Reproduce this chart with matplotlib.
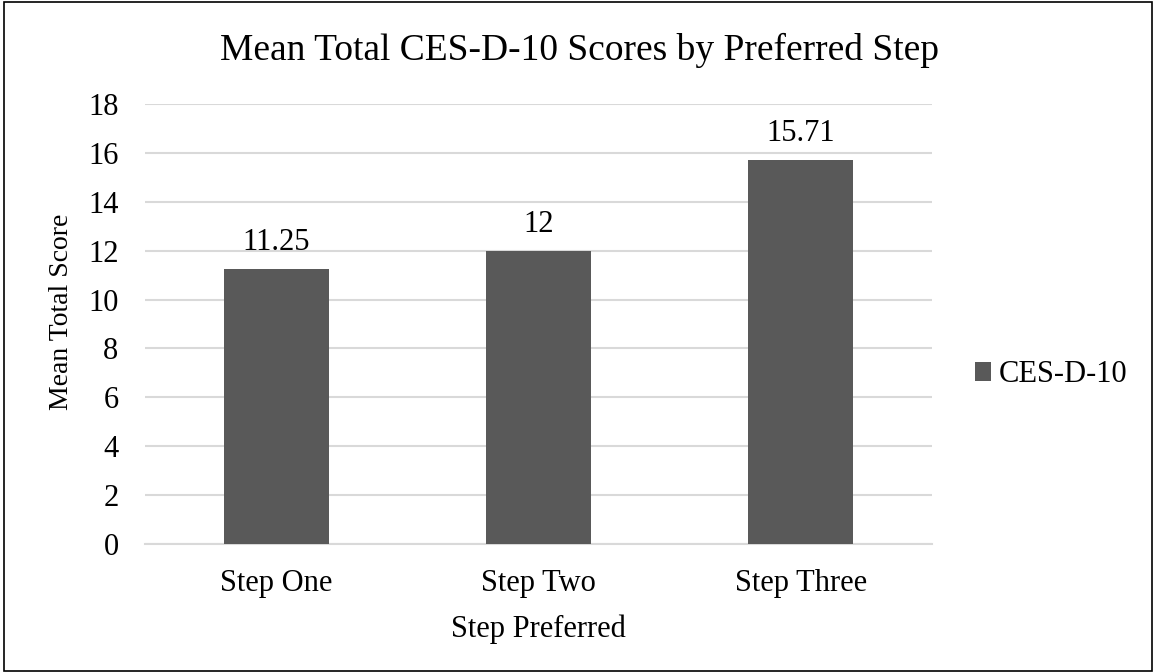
import matplotlib.pyplot as plt
from matplotlib.patches import Rectangle

categories = ["Step One", "Step Two", "Step Three"]
scores = [11.25, 12, 15.71]
score_labels = ["11.25", "12", "15.71"]
yticks = [0, 2, 4, 6, 8, 10, 12, 14, 16, 18]

plt.rcParams['font.family'] = ['Liberation Serif', 'DejaVu Serif']

W, H = 1158, 672
fig = plt.figure(figsize=(W/100, H/100), dpi=100)
ax = fig.add_axes([145/W, 1 - 544/H, (932 - 145)/W, (544 - 104)/H])

x = list(range(len(categories)))
bars = ax.bar(x, scores, width=0.4, color='#595959', label='CES-D-10', zorder=3)

# value labels above the bars
for b, lab in zip(bars, score_labels):
    ax.annotate(lab, (b.get_x() + b.get_width()/2, b.get_height()),
                xytext=(0, 13.5), textcoords='offset points',
                ha='center', va='baseline', fontsize=22, color='#000000')

ax.set_xlim(-0.5, 2.5)
ax.set_ylim(0, 18)
ax.set_yticks(yticks)
ax.set_xticks(x)
ax.set_xticklabels(categories)
ax.tick_params(axis='both', length=0, labelsize=22, colors='#000000')
ax.tick_params(axis='y', pad=19)
ax.tick_params(axis='x', pad=18)
ax.yaxis.grid(True, color='#d9d9d9', linewidth=1.5, zorder=0)
for s in ['top', 'right', 'left']:
    ax.spines[s].set_visible(False)
ax.spines['bottom'].set_color('#d9d9d9')
ax.spines['bottom'].set_linewidth(1.5)

ax.set_xlabel("Step Preferred", fontsize=22)
ax.xaxis.label.set_va('baseline')
ax.xaxis.set_label_coords(0.5, (544 - 637)/440)
ax.set_ylabel("Mean Total Score", fontsize=20)
ax.yaxis.label.set_va('center')
ax.yaxis.set_label_coords((62 - 145)/787, (544 - 312)/440)

fig.text(580/W, 1 - 60/H, "Mean Total CES-D-10 Scores by Preferred Step",
         ha='center', va='baseline', fontsize=27)

fig.legend(loc='center left', bbox_to_anchor=(947/W, 1 - 375/H),
           frameon=False, fontsize=22, handlelength=0.55, handleheight=0.55,
           handletextpad=0.25)

fig.patches.append(Rectangle((4/W, 1/H), 1148/W, 669/H,
                             transform=fig.transFigure, fill=False,
                             edgecolor='#000000', linewidth=1.2))

fig.savefig('out.png', dpi=100)
